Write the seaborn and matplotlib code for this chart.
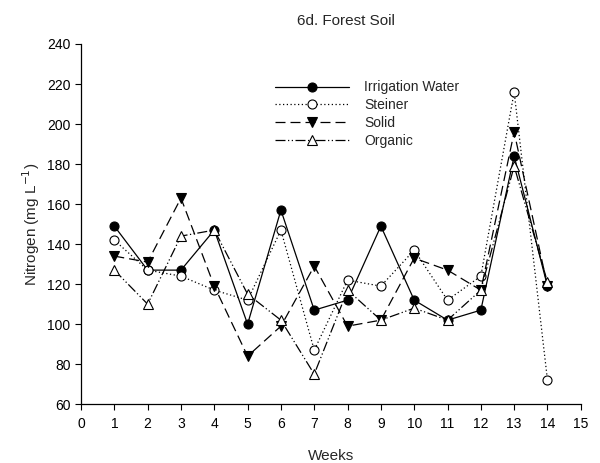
import matplotlib
matplotlib.use("Agg")
import matplotlib.pyplot as plt
import seaborn as sns
import pandas as pd

weeks = list(range(1, 15))
irrigation = [149, 127, 127, 147, 100, 157, 107, 112, 149, 112, 102, 107, 184, 119]
steiner = [142, 127, 124, 117, 112, 147, 87, 122, 119, 137, 112, 124, 216, 72]
solid = [134, 131, 163, 119, 84, 99, 129, 99, 102, 133, 127, 117, 196, 119]
organic = [127, 110, 144, 147, 115, 102, 75, 117, 102, 108, 102, 117, 179, 121]

series_names = ["Irrigation Water", "Steiner", "Solid", "Organic"]
series_values = [irrigation, steiner, solid, organic]

sns.set_style("ticks")
plt.rcParams['font.family'] = ['Liberation Sans', 'DejaVu Sans']

fig = plt.figure(figsize=(6, 4.63), dpi=100)
ax = fig.add_axes([0.135, 0.127, 0.833, 0.778])

styles = {
    "Irrigation Water": dict(linestyle="-", marker="o", markerfacecolor="black"),
    "Steiner": dict(linestyle=(0, (1, 2)), marker="o", markerfacecolor="white"),
    "Solid": dict(linestyle=(0, (8, 4)), marker="v", markerfacecolor="black"),
    "Organic": dict(linestyle=(0, (8, 2, 1, 2, 1, 2)), marker="^", markerfacecolor="white"),
}

for name, vals in zip(series_names, series_values):
    df = pd.DataFrame({"Weeks": weeks, "N": vals})
    sns.lineplot(data=df, x="Weeks", y="N", ax=ax, color="black", linewidth=0.9,
                 markersize=6.5, markeredgecolor="black", markeredgewidth=0.8,
                 label=name, **styles[name])

ax.set_xlim(0, 15)
ax.set_ylim(60, 240)
ax.set_xticks(range(0, 16))
ax.set_yticks(range(60, 241, 20))
ax.tick_params(labelsize=10, length=4, width=0.8, colors="black", direction="out")
ax.tick_params(axis="x", pad=5)
for s in ["left", "bottom"]:
    ax.spines[s].set_linewidth(0.9)
    ax.spines[s].set_color("black")
ax.spines["top"].set_visible(False)
ax.spines["right"].set_visible(False)

ax.set_xlabel("Weeks", fontsize=11, labelpad=13)
ax.set_ylabel("Nitrogen (mg L$^{-1}$)", fontsize=11, labelpad=4)
ax.set_title("6d. Forest Soil", fontsize=11, pad=14, x=0.53)

ax.legend(loc="upper left", bbox_to_anchor=(0.375, 0.918), frameon=False,
          fontsize=10, handlelength=5.3, labelspacing=0.28, borderpad=0,
          handletextpad=1.1)

fig.savefig("out.png", dpi=100)
